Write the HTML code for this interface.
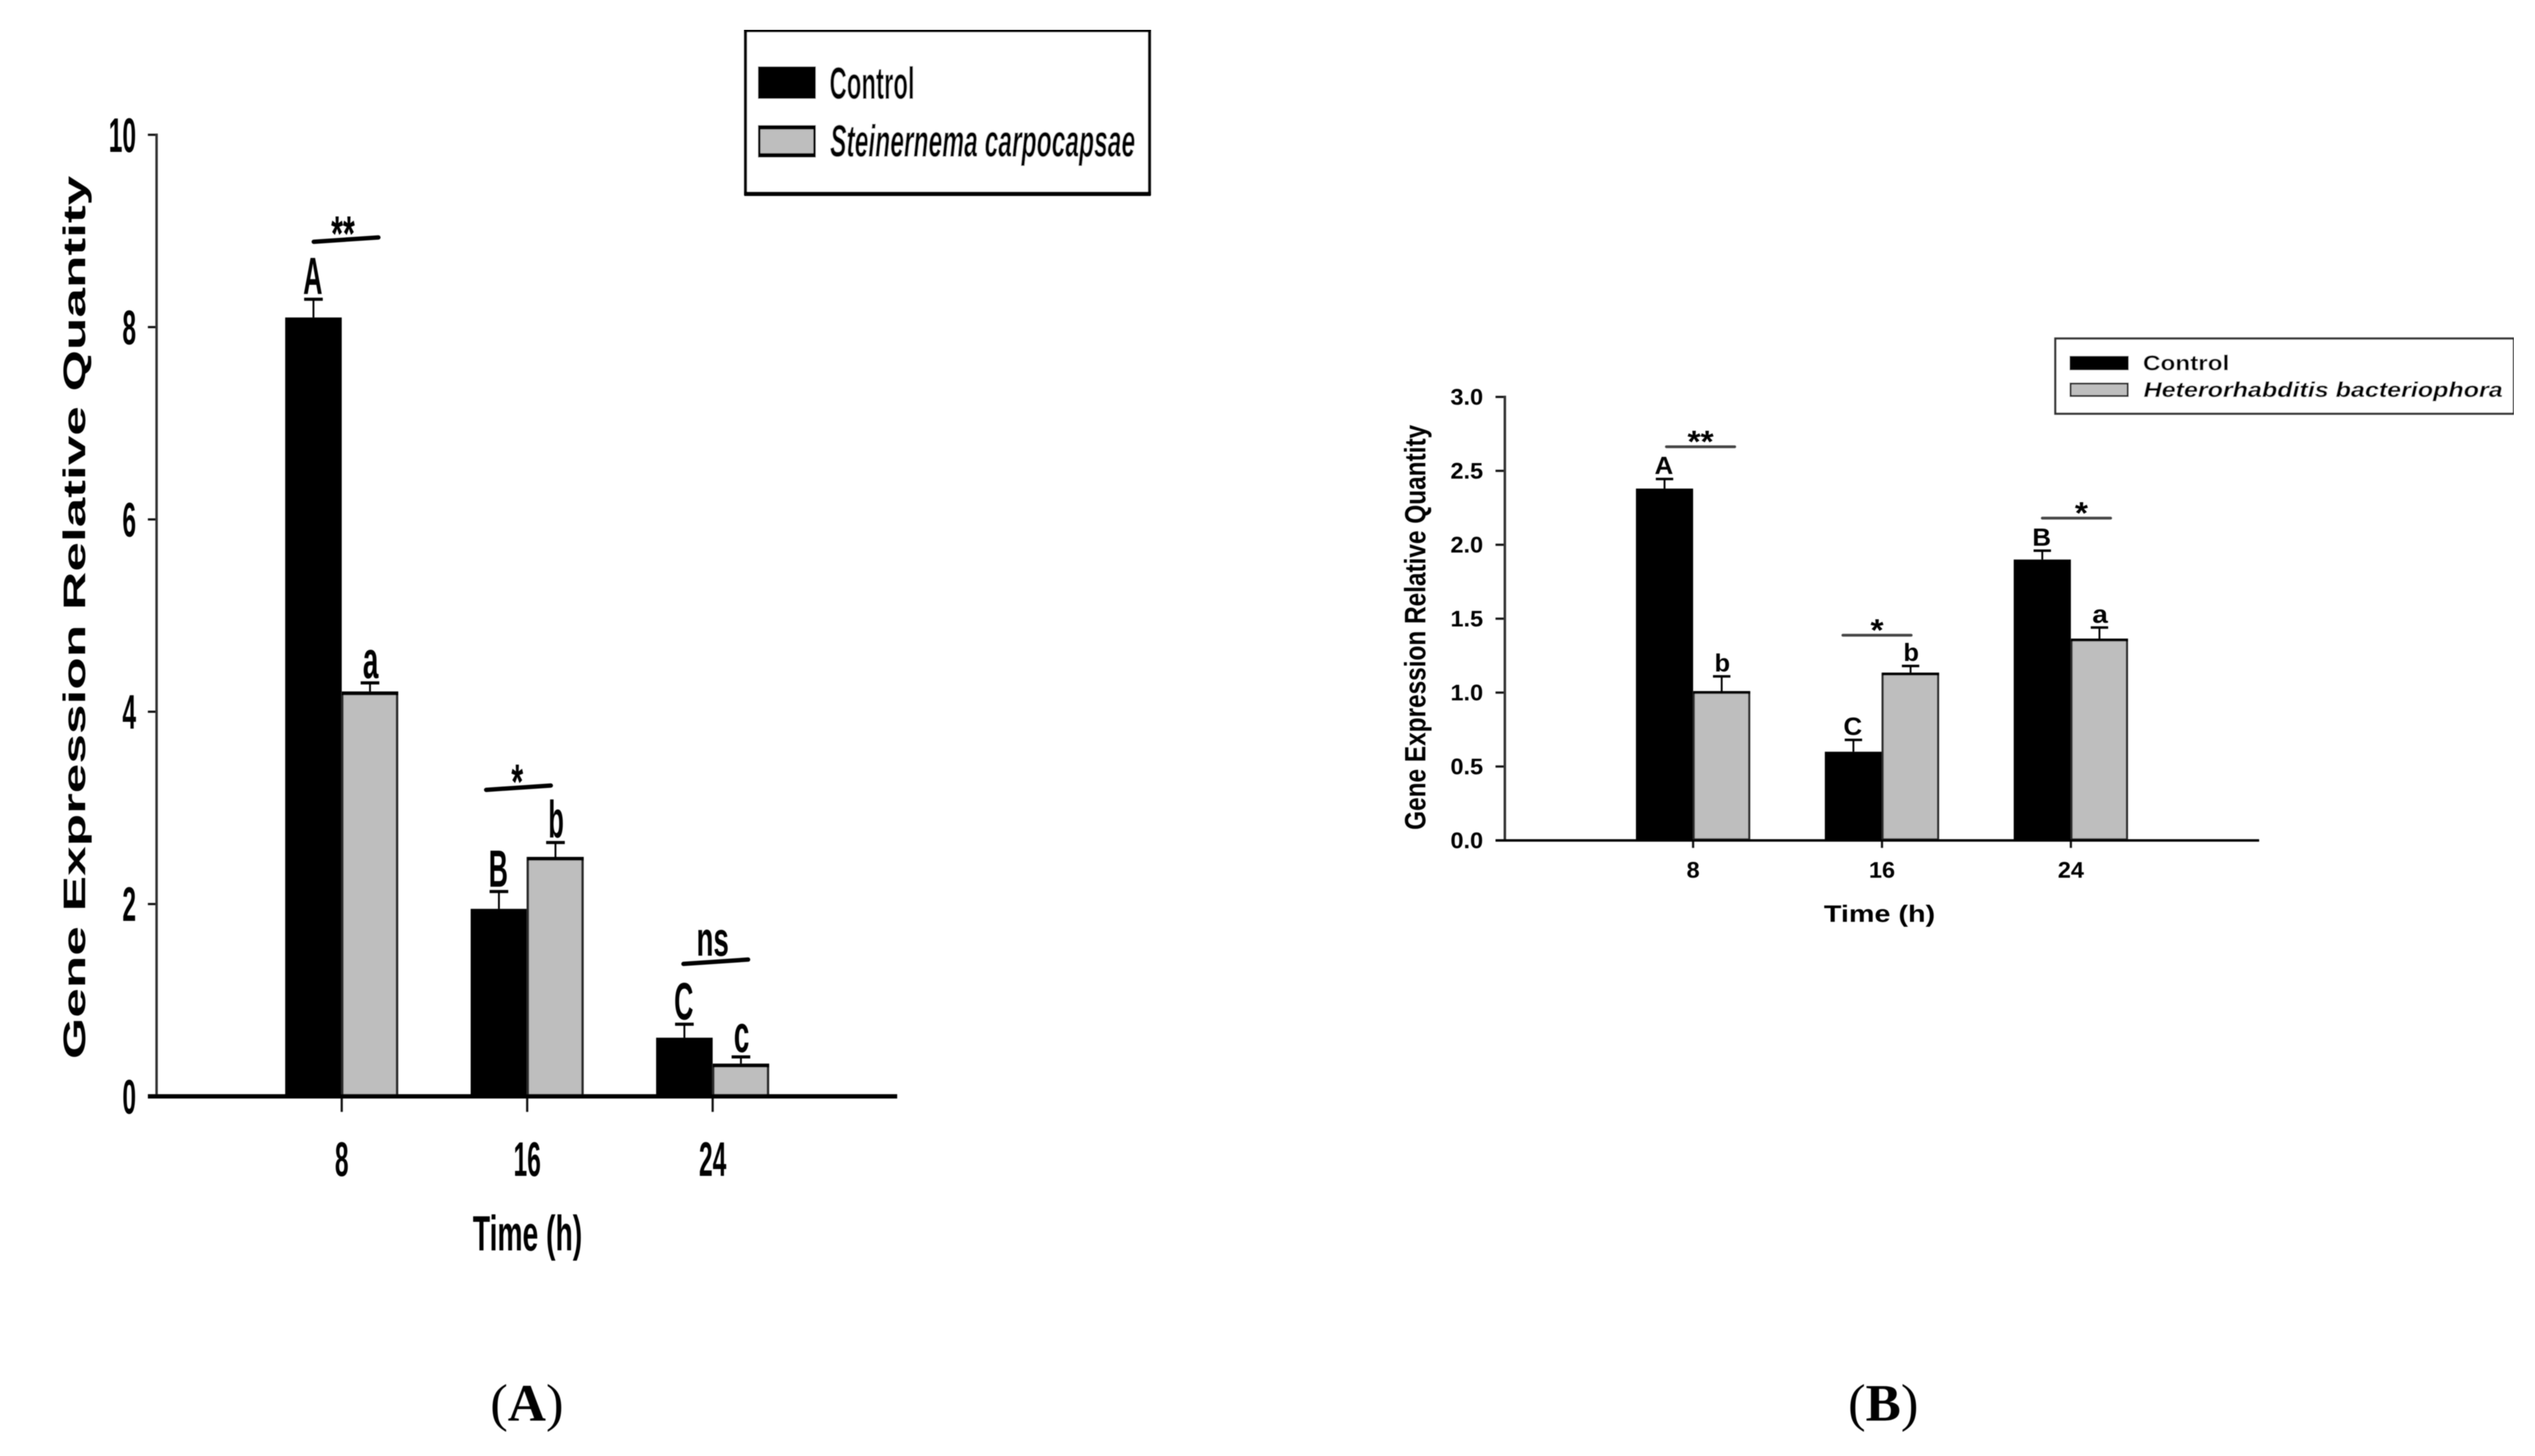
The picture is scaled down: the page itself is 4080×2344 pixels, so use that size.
<!DOCTYPE html>
<html lang="en">
<head>
<meta charset="utf-8">
<title>Gene expression relative quantity</title>
<style>
html,body{margin:0;padding:0;background:#fff;}
body{width:4080px;height:2344px;overflow:hidden;}
svg{display:block;}
text{font-family:"Liberation Sans",sans-serif;font-weight:bold;fill:#000;}
.serif{font-family:"Liberation Serif",serif;font-weight:normal;}
</style>
</head>
<body>
<svg id="figure" xmlns="http://www.w3.org/2000/svg" width="4080" height="2344" viewBox="0 0 4080 2344">
  <defs><filter id="soft" x="0" y="0" width="100%" height="100%"><feGaussianBlur stdDeviation="0.8"/></filter></defs>
  <rect width="4080" height="2344" fill="#fff"/>
  <g id="root" filter="url(#soft)">
    <g id="panel-a">
      <text transform="translate(137,994) rotate(-90)" text-anchor="middle" font-size="50" textLength="1422" lengthAdjust="spacingAndGlyphs">Gene Expression Relative Quantity</text>
      <text x="849" y="2013" text-anchor="middle" font-size="80" textLength="176" lengthAdjust="spacingAndGlyphs">Time (h)</text>
      <g>
        <rect x="1200" y="48" width="650" height="264" fill="#fff" stroke="#111" stroke-width="5"/>
        <line x1="1198" x2="1852" y1="48" y2="48" stroke="#000" stroke-width="8"/>
        <line x1="1198" x2="1852" y1="312" y2="312" stroke="#000" stroke-width="7"/>
        <rect x="1220" y="107" width="93" height="52" fill="#000"/>
        <rect x="1222" y="205" width="89" height="46" fill="#bebebe" stroke="#000" stroke-width="4"/>
        <line x1="1220" x2="1313" y1="205" y2="205" stroke="#000" stroke-width="7"/>
        <line x1="1220" x2="1313" y1="250" y2="250" stroke="#000" stroke-width="7"/>
        <text x="1335" y="159" font-size="72" textLength="137" lengthAdjust="spacingAndGlyphs">Control</text>
        <text x="1336" y="252" font-size="72" font-style="italic" textLength="491" lengthAdjust="spacingAndGlyphs">Steinernema carpocapsae</text>
      </g>
    </g>
    <g id="panel-b">
      <text transform="translate(2294,1010) rotate(-90)" text-anchor="middle" font-size="47" textLength="652" lengthAdjust="spacingAndGlyphs">Gene Expression Relative Quantity</text>
      <text x="3025" y="1484" text-anchor="middle" font-size="38" textLength="179" lengthAdjust="spacingAndGlyphs">Time (h)</text>
      <g>
        <rect x="3308" y="545" width="738" height="121" fill="#fff" stroke="#333" stroke-width="3.5"/>
        <rect x="3331" y="573" width="95" height="23" fill="#000"/>
        <rect x="3332.5" y="617.5" width="92" height="20" fill="#bebebe" stroke="#222" stroke-width="3"/>
        <text x="3449" y="596" font-size="34" textLength="139" lengthAdjust="spacingAndGlyphs">Control</text>
        <text x="3450" y="639" font-size="34" font-style="italic" textLength="578" lengthAdjust="spacingAndGlyphs">Heterorhabditis bacteriophora</text>
      </g>
    </g>
    <text class="serif" x="848" y="2287" text-anchor="middle" font-size="85">(<tspan font-weight="bold">A</tspan>)</text>
    <text class="serif" x="3031" y="2287" text-anchor="middle" font-size="85">(<tspan font-weight="bold">B</tspan>)</text>
  </g>
</svg>
<script>
const categories = ['8', '16', '24'];

const yTicksA = [0, 2, 4, 6, 8, 10];
const yTickLabelsA = ['0', '2', '4', '6', '8', '10'];
const controlA = [8.1, 1.95, 0.61];
const treatedA = [4.21, 2.49, 0.34];
const controlErrA = [0.19, 0.18, 0.14];
const treatedErrA = [0.09, 0.15, 0.07];
const controlLettersA = ['A', 'B', 'C'];
const treatedLettersA = ['a', 'b', 'c'];
const sigLevelsA = [8.91, 3.21, 1.40];
const sigLabelsA = ['**', '*', 'ns'];

const yTicksB = [0, 0.5, 1, 1.5, 2, 2.5, 3];
const yTickLabelsB = ['0.0', '0.5', '1.0', '1.5', '2.0', '2.5', '3.0'];
const controlB = [2.38, 0.6, 1.9];
const treatedB = [1.01, 1.135, 1.365];
const controlErrB = [0.065, 0.08, 0.06];
const treatedErrB = [0.1, 0.045, 0.075];
const controlLettersB = ['A', 'C', 'B'];
const treatedLettersB = ['b', 'b', 'a'];
const sigLevelsB = [2.663, 1.388, 2.18];
const sigLabelsB = ['**', '*', '*'];

const NS = 'http://www.w3.org/2000/svg';

function svgEl(parent, tag, attrs, content) {
  const node = document.createElementNS(NS, tag);
  for (const key in attrs) node.setAttribute(key, attrs[key]);
  if (content !== undefined) node.textContent = content;
  parent.appendChild(node);
  return node;
}

function drawPanel(cfg, d) {
  const host = document.getElementById(cfg.host);
  const yScale = v => cfg.y0 - v * cfg.yUnit;
  const xScale = i => cfg.x0 + i * cfg.xStep;
  const id = cfg.id;
  let el;

  d.ticks.forEach((t, i) => {
    el = svgEl(host, 'line', {x1: cfg.axisLeft, x2: cfg.axisX, y1: yScale(t), y2: yScale(t), stroke: '#111', 'stroke-width': cfg.tickW});
    
    
    el = svgEl(host, 'text', {x: cfg.tickTextRight, y: yScale(t) + cfg.tickFont * 0.35, 'text-anchor': 'end', 'font-size': cfg.tickFont, textLength: d.tickLabels[i].length * cfg.digitW - (d.tickLabels[i].includes('.') ? cfg.digitW * 0.5 : 0), lengthAdjust: 'spacingAndGlyphs'}, d.tickLabels[i]);
    
    
  });

  categories.forEach((c, i) => {
    const cx = xScale(i);

    el = svgEl(host, 'rect', {x: cx - cfg.barW, y: yScale(d.control[i]), width: cfg.barW, height: cfg.y0 - yScale(d.control[i]), fill: '#000'});
    
    

    el = svgEl(host, 'rect', {x: cx + 1, y: yScale(d.treated[i]) + cfg.barStroke / 2, width: cfg.barW - cfg.barStroke / 2 - 1, height: cfg.y0 - yScale(d.treated[i]) - cfg.barStroke, fill: '#bebebe', stroke: '#2a2a2a', 'stroke-width': cfg.barStroke});
    
    

    el = svgEl(host, 'line', {x1: cx, x2: cx + cfg.barW, y1: yScale(d.treated[i]) + cfg.topStroke / 2, y2: yScale(d.treated[i]) + cfg.topStroke / 2, stroke: '#000', 'stroke-width': cfg.topStroke});
    
    

    [['control', d.control[i], d.controlErr[i], d.controlLetters[i], -cfg.barW / 2],
     ['treatment', d.treated[i], d.treatedErr[i], d.treatedLetters[i], cfg.barW / 2]].forEach(s => {
      const ex = cx + s[4];
      const top = yScale(s[1] + s[2]);
      el = svgEl(host, 'line', {x1: ex, x2: ex, y1: yScale(s[1]), y2: top, stroke: '#000', 'stroke-width': 3});
      
      
      el = svgEl(host, 'line', {x1: ex - cfg.capW / 2, x2: ex + cfg.capW / 2, y1: top, y2: top, stroke: '#000', 'stroke-width': cfg.capStroke});
      
      
      const upper = s[3] === s[3].toUpperCase();
      el = svgEl(host, 'text', {x: ex + (upper ? -1 : 1), y: top - cfg.letterGap, 'text-anchor': 'middle', 'font-size': cfg.letterFont, textLength: upper ? cfg.upperW : cfg.lowerW, lengthAdjust: 'spacingAndGlyphs'}, s[3]);
      
      
    });

    const sx = cx + cfg.sigDx[i];
    const sy = yScale(d.sigLevels[i]);
    el = svgEl(host, 'line', {x1: sx - cfg.sigHalf, x2: sx + cfg.sigHalf, y1: sy + cfg.sigSlant / 2, y2: sy - cfg.sigSlant / 2, stroke: cfg.sigColor, 'stroke-width': cfg.sigStroke, 'stroke-linecap': 'round'});
    
    

    const lab = d.sigLabels[i];
    const isNs = lab === 'ns';
    el = svgEl(host, 'text', {x: sx + cfg.labelDx[i], y: isNs ? sy - cfg.nsGap : sy + cfg.starDrop, 'text-anchor': 'middle', 'font-size': isNs ? cfg.nsFont : cfg.starFont, textLength: isNs ? cfg.nsW : lab.length * cfg.starW, lengthAdjust: 'spacingAndGlyphs'}, lab);
    
    

    el = svgEl(host, 'line', {x1: cx, x2: cx, y1: cfg.y0, y2: cfg.xTickEnd, stroke: '#111', 'stroke-width': cfg.tickW});
    
    
    el = svgEl(host, 'text', {x: cx, y: cfg.xLabelBase, 'text-anchor': 'middle', 'font-size': cfg.tickFont, textLength: c.length * cfg.digitW, lengthAdjust: 'spacingAndGlyphs'}, c);
    
    
  });

  el = svgEl(host, 'line', {x1: cfg.axisX, x2: cfg.axisX, y1: cfg.y0, y2: yScale(d.ticks[d.ticks.length - 1]) - 2, stroke: '#333', 'stroke-width': cfg.yAxisW});
  
  
  el = svgEl(host, 'line', {x1: cfg.axisLeft, x2: cfg.axisRight, y1: cfg.y0, y2: cfg.y0, stroke: '#000', 'stroke-width': cfg.xAxisW});
  
  
}

drawPanel({
  id: 'panel-a', host: 'panel-a',
  y0: 1765, yUnit: 154.8, x0: 550, xStep: 298.5, barW: 91,
  axisX: 252, axisLeft: 238, axisRight: 1444, yAxisW: 4, xAxisW: 7, tickW: 3.5,
  tickTextRight: 219, tickFont: 78, digitW: 22, xTickEnd: 1790, xLabelBase: 1893,
  barStroke: 4, topStroke: 6, capW: 30, capStroke: 5,
  letterFont: 84, letterGap: 8, upperW: 31, lowerW: 25,
  sigDx: [7, -14, 5], labelDx: [-5, -2, -5], sigHalf: 52, sigSlant: 7, sigColor: '#000', sigStroke: 7,
  starFont: 80, starDrop: 18, starW: 19, nsFont: 78, nsGap: 10, nsW: 52
}, {
  ticks: yTicksA, tickLabels: yTickLabelsA, control: controlA, treated: treatedA,
  controlErr: controlErrA, treatedErr: treatedErrA,
  controlLetters: controlLettersA, treatedLetters: treatedLettersA,
  sigLevels: sigLevelsA, sigLabels: sigLabelsA
});

drawPanel({
  id: 'panel-b', host: 'panel-b',
  y0: 1353, yUnit: 238, x0: 2725, xStep: 304, barW: 92,
  axisX: 2422, axisLeft: 2407, axisRight: 3636, yAxisW: 4, xAxisW: 4, tickW: 3.5,
  tickTextRight: 2387, tickFont: 36, digitW: 21, xTickEnd: 1365, xLabelBase: 1413,
  barStroke: 3.5, topStroke: 4.5, capW: 28, capStroke: 4,
  letterFont: 40, letterGap: 8, upperW: 30, lowerW: 25,
  sigDx: [12, -8, 9], labelDx: [0, 0, 8], sigHalf: 55, sigSlant: 0, sigColor: '#444', sigStroke: 4.5,
  starFont: 50, starDrop: 9, starW: 21, nsFont: 37, nsGap: 8, nsW: 30
}, {
  ticks: yTicksB, tickLabels: yTickLabelsB, control: controlB, treated: treatedB,
  controlErr: controlErrB, treatedErr: treatedErrB,
  controlLetters: controlLettersB, treatedLetters: treatedLettersB,
  sigLevels: sigLevelsB, sigLabels: sigLabelsB
});
</script>
</body>
</html>
